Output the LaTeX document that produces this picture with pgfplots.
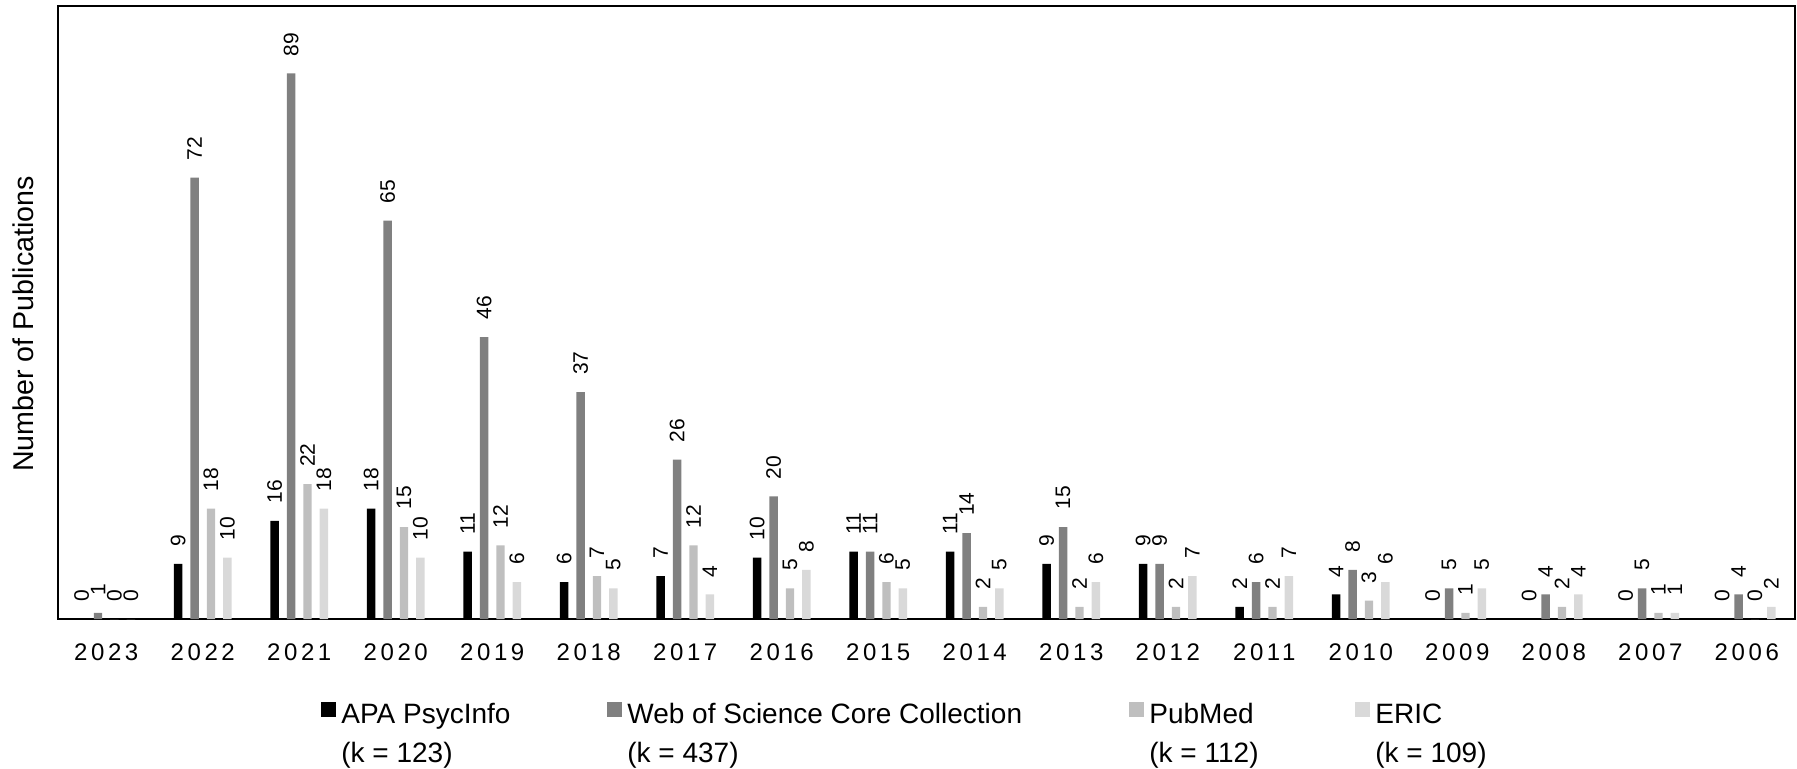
\documentclass[border=0pt]{standalone}
\usepackage{fontspec}
\setmainfont{Liberation Sans}
\newfontfamily\spaced[LetterSpace=15]{Liberation Sans}
\usepackage{pgfplots}
\usepackage{pgfplotstable}
\pgfplotsset{compat=1.18}
\definecolor{cA}{HTML}{000000}
\definecolor{cB}{HTML}{808080}
\definecolor{cC}{HTML}{BFBFBF}
\definecolor{cD}{HTML}{D9D9D9}
\pgfplotstableread{
x A B C D
0 0 1 0 0
1 9 72 18 10
2 16 89 22 18
3 18 65 15 10
4 11 46 12 6
5 6 37 7 5
6 7 26 12 4
7 10 20 5 8
8 11 11 6 5
9 11 14 2 5
10 9 15 2 6
11 9 9 2 7
12 2 6 2 7
13 4 8 3 6
14 0 5 1 5
15 0 4 2 4
16 0 5 1 1
17 0 4 0 2
}\data
\begin{document}
\begin{tikzpicture}
\begin{axis}[
 scale only axis, width=868.5pt, height=306.5pt,
 ybar=4pt, bar width=4.2pt,
 xmin=-0.5, xmax=17.5, ymin=0, ymax=100,
 xtick={0,...,17},
 xticklabels={2023,2022,2021,2020,2019,2018,2017,2016,2015,2014,2013,2012,2011,2010,2009,2008,2007,2006},
 ytick=\empty,
 major tick length=0pt,
 axis line style={line width=0.9pt},
 xticklabel style={font=\spaced\fontsize{12}{14}\selectfont, yshift=-9pt},
 ylabel={Number of Publications},
 every axis y label/.style={at={(axis description cs:-0.0201,0.481)}, rotate=90, anchor=center, font=\fontsize{14.3}{16}\selectfont},
 /pgf/number format/assume math mode=true,
 nodes near coords,
 every node near coord/.append style={rotate=90, anchor=west, inner xsep=8.5pt, inner ysep=0pt, font=\fontsize{10.5}{12}\selectfont, black},
 legend columns=4,
 legend cell align=left,
 legend style={at={(axis description cs:0.1514,-0.132)}, anchor=north west, draw=none, fill=none, inner sep=0pt, column sep=0pt, nodes={inner sep=0pt}, font=\fontsize{14}{16.5}\selectfont},
 sq/.style={legend image code/.code={\fill[##1,draw=none] (0pt,-2pt) rectangle (7.5pt,5.5pt); \path (10pt,0pt);}},
]
\addplot[fill=cA, draw=none, sq] table[x=x,y=A]{\data};
\addlegendentry{\makebox[133pt][l]{\begin{tabular}[t]{@{}l@{}}APA PsycInfo\\[3pt](k = 123)\end{tabular}}}
\addplot[fill=cB, draw=none, sq] table[x=x,y=B]{\data};
\addlegendentry{\makebox[251pt][l]{\begin{tabular}[t]{@{}l@{}}Web of Science Core Collection\\[3pt](k = 437)\end{tabular}}}
\addplot[fill=cC, draw=none, sq] table[x=x,y=C]{\data};
\addlegendentry{\makebox[103pt][l]{\begin{tabular}[t]{@{}l@{}}PubMed\\[3pt](k = 112)\end{tabular}}}
\addplot[fill=cD, draw=none, sq] table[x=x,y=D]{\data};
\addlegendentry{\begin{tabular}[t]{@{}l@{}}ERIC\\[3pt](k = 109)\end{tabular}}
\end{axis}
\pgfresetboundingbox
\path[use as bounding box] (-29pt,-74.5pt) rectangle (869.5pt,309.5pt);
\end{tikzpicture}
\end{document}
